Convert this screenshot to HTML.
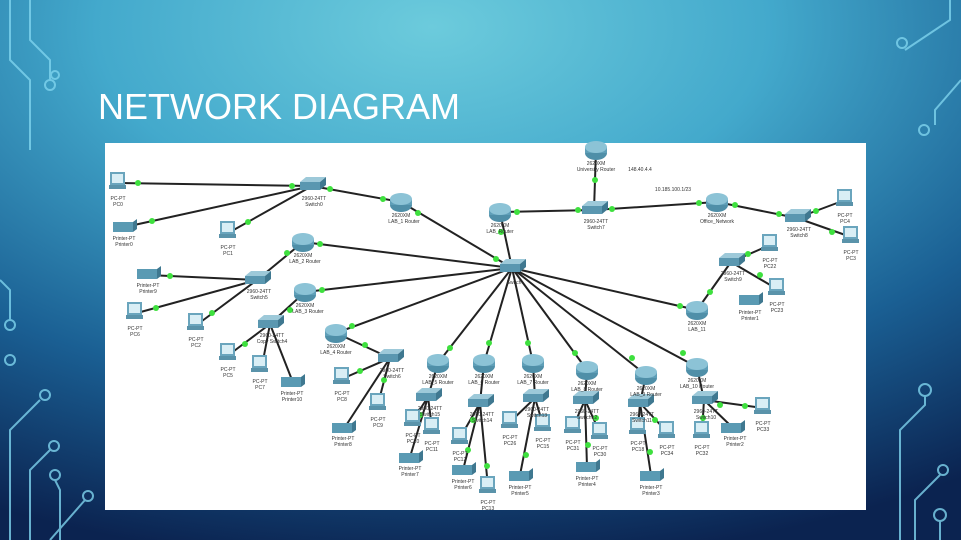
<!DOCTYPE html>
<html><head><meta charset="utf-8"><style>
html,body{margin:0;padding:0;width:961px;height:540px;overflow:hidden}
svg text{font-family:"Liberation Sans",sans-serif}
</style></head><body>
<svg width="961" height="540" viewBox="0 0 961 540" xmlns="http://www.w3.org/2000/svg">
<defs>
<radialGradient id="bg" cx="0.45" cy="0.05" r="1.0">
<stop offset="0" stop-color="#6ccbdc"/><stop offset="0.35" stop-color="#43a9cc"/><stop offset="0.7" stop-color="#1a5f93"/><stop offset="1" stop-color="#0b2350"/>
</radialGradient>
<g id="r"><ellipse cx="0" cy="3" rx="11" ry="7" fill="#4f8fa8"/><rect x="-11" y="-3" width="22" height="6" fill="#5f9fb8"/><ellipse cx="0" cy="-3" rx="11" ry="6" fill="#8cc3d6"/></g>
<g id="s"><polygon points="-12,-4 -6,-9 14,-9 8,-4" fill="#9dc9d9"/><rect x="-12" y="-4" width="20" height="8" fill="#5a97b0"/><polygon points="8,-4 14,-9 14,-1 8,4" fill="#3f7890"/></g>
<g id="p"><rect x="-8" y="-11" width="15" height="13" fill="#6aa5bd"/><rect x="-6" y="-9" width="11" height="9" fill="#d9eef5"/><rect x="-9" y="2" width="17" height="4" fill="#5a93aa"/></g>
<g id="t"><rect x="-11" y="-5" width="20" height="10" fill="#5a9ab3"/><polygon points="9,-5 13,-8 13,2 9,5" fill="#3f7890"/></g>
</defs>
<rect width="961" height="540" fill="url(#bg)"/>
<g stroke="#7fd4ee" stroke-width="2" fill="none" opacity="0.8">
<path d="M10 0 V60 L30 80 V150"/><path d="M30 0 V40 L50 60 V80"/><circle cx="50" cy="85" r="5"/><circle cx="55" cy="75" r="4"/>
<path d="M0 280 L10 290 V320"/><circle cx="10" cy="325" r="5"/><circle cx="10" cy="360" r="5"/>
<path d="M10 540 V430 L40 400"/><circle cx="45" cy="395" r="5"/><path d="M30 540 V470 L50 450"/><circle cx="54" cy="446" r="5"/><path d="M50 540 L85 500"/><circle cx="88" cy="496" r="5"/><path d="M60 540 V490 L55 480"/><circle cx="55" cy="475" r="5"/>
<path d="M950 0 V20 L905 50"/><circle cx="902" cy="43" r="5"/><path d="M961 80 L935 110 V125"/><circle cx="924" cy="130" r="5"/>
<path d="M900 540 V430 L925 405 V395"/><circle cx="925" cy="390" r="6"/><path d="M915 540 V500 L940 475"/><circle cx="943" cy="470" r="5"/><path d="M940 540 V520"/><circle cx="940" cy="515" r="6"/>
</g>
<text x="98" y="119" font-size="36" fill="#fff">NETWORK DIAGRAM</text>
<rect x="105" y="143" width="761" height="367" fill="#fff"/>
<g stroke="#222" stroke-width="2">
<line x1="120" y1="183" x2="312" y2="186"/><line x1="125" y1="227" x2="312" y2="186"/><line x1="230" y1="232" x2="312" y2="186"/>
<line x1="312" y1="186" x2="401" y2="202"/><line x1="401" y1="202" x2="512" y2="268"/>
<line x1="303" y1="242" x2="512" y2="268"/><line x1="305" y1="292" x2="512" y2="268"/><line x1="336" y1="333" x2="512" y2="268"/>
<line x1="303" y1="242" x2="257" y2="280"/><line x1="148" y1="275" x2="257" y2="280"/><line x1="137" y1="313" x2="257" y2="280"/><line x1="198" y1="324" x2="257" y2="280"/>
<line x1="305" y1="292" x2="270" y2="324"/><line x1="270" y1="324" x2="230" y2="354"/><line x1="270" y1="324" x2="262" y2="366"/><line x1="270" y1="324" x2="292" y2="380"/>
<line x1="336" y1="333" x2="390" y2="358"/><line x1="390" y1="358" x2="344" y2="378"/><line x1="390" y1="358" x2="378" y2="404"/><line x1="390" y1="358" x2="345" y2="427"/>
<line x1="500" y1="212" x2="512" y2="268"/><line x1="500" y1="212" x2="594" y2="210"/><line x1="594" y1="210" x2="596" y2="150"/><line x1="594" y1="210" x2="717" y2="202"/>
<line x1="717" y1="202" x2="797" y2="218"/><line x1="797" y1="218" x2="845" y2="200"/><line x1="797" y1="218" x2="851" y2="237"/>
<line x1="512" y1="268" x2="697" y2="310"/><line x1="697" y1="310" x2="731" y2="262"/><line x1="731" y1="262" x2="770" y2="245"/><line x1="731" y1="262" x2="777" y2="289"/>
<line x1="512" y1="268" x2="438" y2="363"/><line x1="512" y1="268" x2="484" y2="363"/><line x1="512" y1="268" x2="533" y2="363"/><line x1="512" y1="268" x2="587" y2="370"/><line x1="512" y1="268" x2="646" y2="375"/><line x1="512" y1="268" x2="697" y2="367"/>
<line x1="438" y1="363" x2="428" y2="397"/><line x1="428" y1="397" x2="413" y2="420"/><line x1="428" y1="397" x2="432" y2="428"/><line x1="428" y1="397" x2="410" y2="457"/>
<line x1="484" y1="363" x2="480" y2="403"/><line x1="480" y1="403" x2="460" y2="438"/><line x1="480" y1="403" x2="463" y2="470"/><line x1="480" y1="403" x2="488" y2="487"/>
<line x1="533" y1="363" x2="535" y2="398"/><line x1="535" y1="398" x2="510" y2="422"/><line x1="535" y1="398" x2="543" y2="425"/><line x1="535" y1="398" x2="520" y2="475"/>
<line x1="587" y1="370" x2="585" y2="400"/><line x1="585" y1="400" x2="573" y2="427"/><line x1="585" y1="400" x2="600" y2="433"/><line x1="585" y1="400" x2="587" y2="467"/>
<line x1="646" y1="375" x2="640" y2="403"/><line x1="640" y1="403" x2="638" y2="428"/><line x1="640" y1="403" x2="667" y2="432"/><line x1="640" y1="403" x2="651" y2="475"/>
<line x1="697" y1="367" x2="704" y2="400"/><line x1="704" y1="400" x2="702" y2="432"/><line x1="704" y1="400" x2="732" y2="427"/><line x1="704" y1="400" x2="763" y2="408"/>
</g>
<g fill="#3ee03e">
<circle cx="138" cy="183" r="3"/><circle cx="292" cy="186" r="3"/><circle cx="152" cy="221" r="3"/><circle cx="248" cy="222" r="3"/><circle cx="330" cy="189" r="3"/><circle cx="383" cy="199" r="3"/><circle cx="418" cy="213" r="3"/><circle cx="496" cy="259" r="3"/>
<circle cx="320" cy="244" r="3"/><circle cx="322" cy="290" r="3"/><circle cx="352" cy="326" r="3"/><circle cx="170" cy="276" r="3"/><circle cx="156" cy="308" r="3"/><circle cx="212" cy="313" r="3"/><circle cx="287" cy="253" r="3"/>
<circle cx="245" cy="344" r="3"/><circle cx="290" cy="310" r="3"/><circle cx="365" cy="345" r="3"/><circle cx="360" cy="371" r="3"/><circle cx="384" cy="380" r="3"/>
<circle cx="501" cy="232" r="3"/><circle cx="517" cy="212" r="3"/><circle cx="578" cy="210" r="3"/><circle cx="595" cy="180" r="3"/><circle cx="612" cy="209" r="3"/><circle cx="699" cy="203" r="3"/><circle cx="735" cy="205" r="3"/><circle cx="779" cy="214" r="3"/><circle cx="816" cy="211" r="3"/><circle cx="832" cy="232" r="3"/>
<circle cx="680" cy="306" r="3"/><circle cx="710" cy="292" r="3"/><circle cx="748" cy="254" r="3"/><circle cx="760" cy="275" r="3"/>
<circle cx="450" cy="348" r="3"/><circle cx="489" cy="343" r="3"/><circle cx="528" cy="343" r="3"/><circle cx="575" cy="353" r="3"/><circle cx="632" cy="358" r="3"/><circle cx="683" cy="353" r="3"/>
<circle cx="420" cy="415" r="3"/><circle cx="473" cy="420" r="3"/><circle cx="468" cy="450" r="3"/><circle cx="487" cy="466" r="3"/><circle cx="526" cy="455" r="3"/><circle cx="588" cy="445" r="3"/><circle cx="596" cy="418" r="3"/><circle cx="655" cy="420" r="3"/><circle cx="650" cy="452" r="3"/><circle cx="703" cy="418" r="3"/><circle cx="720" cy="405" r="3"/><circle cx="745" cy="406" r="3"/>
</g>
<use href="#s" x="512" y="268"/>
<use href="#r" x="596" y="150"/><use href="#r" x="500" y="212"/><use href="#r" x="401" y="202"/><use href="#r" x="303" y="242"/><use href="#r" x="305" y="292"/><use href="#r" x="336" y="333"/>
<use href="#r" x="438" y="363"/><use href="#r" x="484" y="363"/><use href="#r" x="533" y="363"/><use href="#r" x="587" y="370"/><use href="#r" x="646" y="375"/><use href="#r" x="697" y="367"/><use href="#r" x="717" y="202"/><use href="#r" x="697" y="310"/>
<use href="#s" x="312" y="186"/><use href="#s" x="594" y="210"/><use href="#s" x="797" y="218"/><use href="#s" x="731" y="262"/><use href="#s" x="257" y="280"/><use href="#s" x="270" y="324"/><use href="#s" x="390" y="358"/>
<use href="#s" x="428" y="397"/><use href="#s" x="480" y="403"/><use href="#s" x="535" y="398"/><use href="#s" x="585" y="400"/><use href="#s" x="640" y="403"/><use href="#s" x="704" y="400"/>
<use href="#p" x="118" y="183"/><use href="#p" x="228" y="232"/><use href="#p" x="135" y="313"/><use href="#p" x="196" y="324"/><use href="#p" x="228" y="354"/><use href="#p" x="260" y="366"/><use href="#p" x="342" y="378"/><use href="#p" x="378" y="404"/>
<use href="#p" x="845" y="200"/><use href="#p" x="851" y="237"/><use href="#p" x="770" y="245"/><use href="#p" x="777" y="289"/>
<use href="#p" x="413" y="420"/><use href="#p" x="432" y="428"/><use href="#p" x="460" y="438"/><use href="#p" x="488" y="487"/><use href="#p" x="510" y="422"/><use href="#p" x="543" y="425"/><use href="#p" x="573" y="427"/><use href="#p" x="600" y="433"/><use href="#p" x="638" y="428"/><use href="#p" x="667" y="432"/><use href="#p" x="702" y="432"/><use href="#p" x="763" y="408"/>
<use href="#t" x="124" y="227"/><use href="#t" x="148" y="274"/><use href="#t" x="292" y="382"/><use href="#t" x="343" y="428"/><use href="#t" x="750" y="300"/>
<use href="#t" x="410" y="458"/><use href="#t" x="463" y="470"/><use href="#t" x="520" y="476"/><use href="#t" x="587" y="467"/><use href="#t" x="651" y="476"/><use href="#t" x="732" y="428"/>
<g font-size="5" fill="#333" text-anchor="middle">
<text x="118" y="200">PC-PT</text><text x="118" y="206">PC0</text>
<text x="124" y="240">Printer-PT</text><text x="124" y="246">Printer0</text>
<text x="228" y="249">PC-PT</text><text x="228" y="255">PC1</text>
<text x="314" y="200">2960-24TT</text><text x="314" y="206">Switch0</text>
<text x="401" y="217">2620XM</text><text x="404" y="223">LAB_1 Router</text>
<text x="303" y="257">2620XM</text><text x="305" y="263">LAB_2 Router</text>
<text x="148" y="287">Printer-PT</text><text x="148" y="293">Printer9</text>
<text x="259" y="293">2960-24TT</text><text x="259" y="299">Switch5</text>
<text x="305" y="307">2620XM</text><text x="308" y="313">LAB_3 Router</text>
<text x="135" y="330">PC-PT</text><text x="135" y="336">PC6</text>
<text x="196" y="341">PC-PT</text><text x="196" y="347">PC2</text>
<text x="272" y="337">2960-24TT</text><text x="272" y="343">Copy Switch4</text>
<text x="336" y="348">2620XM</text><text x="336" y="354">LAB_4 Router</text>
<text x="392" y="372">2960-24TT</text><text x="392" y="378">Switch6</text>
<text x="228" y="371">PC-PT</text><text x="228" y="377">PC5</text>
<text x="260" y="383">PC-PT</text><text x="260" y="389">PC7</text>
<text x="292" y="395">Printer-PT</text><text x="292" y="401">Printer10</text>
<text x="342" y="395">PC-PT</text><text x="342" y="401">PC8</text>
<text x="378" y="421">PC-PT</text><text x="378" y="427">PC9</text>
<text x="343" y="440">Printer-PT</text><text x="343" y="446">Printer8</text>
<text x="596" y="165">2620XM</text><text x="596" y="171">University Router</text>
<text x="640" y="171">148.40.4.4</text><text x="673" y="191">10.185.100.1/23</text>
<text x="500" y="227">2620XM</text><text x="500" y="233">LAB_Router</text>
<text x="596" y="223">2960-24TT</text><text x="596" y="229">Switch7</text>
<text x="717" y="217">2620XM</text><text x="717" y="223">Office_Network</text>
<text x="799" y="231">2960-24TT</text><text x="799" y="237">Switch8</text>
<text x="845" y="217">PC-PT</text><text x="845" y="223">PC4</text>
<text x="851" y="254">PC-PT</text><text x="851" y="260">PC3</text>
<text x="733" y="275">2960-24TT</text><text x="733" y="281">Switch9</text>
<text x="770" y="262">PC-PT</text><text x="770" y="268">PC22</text>
<text x="777" y="306">PC-PT</text><text x="777" y="312">PC23</text>
<text x="750" y="314">Printer-PT</text><text x="750" y="320">Printer1</text>
<text x="697" y="325">2620XM</text><text x="697" y="331">LAB_11</text>
<text x="514" y="284">Switch</text>
<text x="438" y="378">2620XM</text><text x="438" y="384">LAB_5 Router</text>
<text x="484" y="378">2620XM</text><text x="484" y="384">LAB_6 Router</text>
<text x="533" y="378">2620XM</text><text x="533" y="384">LAB_7 Router</text>
<text x="587" y="385">2620XM</text><text x="587" y="391">LAB_8 Router</text>
<text x="646" y="390">2620XM</text><text x="646" y="396">LAB_9 Router</text>
<text x="697" y="382">2620XM</text><text x="697" y="388">LAB_10 Router</text>
<text x="430" y="410">2960-24TT</text><text x="430" y="416">Switch15</text>
<text x="482" y="416">2960-24TT</text><text x="482" y="422">Switch14</text>
<text x="537" y="411">2960-24TT</text><text x="537" y="417">Switch13</text>
<text x="587" y="413">2960-24TT</text><text x="587" y="419">Switch12</text>
<text x="642" y="416">2960-24TT</text><text x="642" y="422">Switch11</text>
<text x="706" y="413">2960-24TT</text><text x="706" y="419">Switch10</text>
<text x="413" y="437">PC-PT</text><text x="413" y="443">PC10</text>
<text x="432" y="445">PC-PT</text><text x="432" y="451">PC11</text>
<text x="410" y="470">Printer-PT</text><text x="410" y="476">Printer7</text>
<text x="460" y="455">PC-PT</text><text x="460" y="461">PC12</text>
<text x="463" y="483">Printer-PT</text><text x="463" y="489">Printer6</text>
<text x="488" y="504">PC-PT</text><text x="488" y="510">PC13</text>
<text x="510" y="439">PC-PT</text><text x="510" y="445">PC26</text>
<text x="543" y="442">PC-PT</text><text x="543" y="448">PC15</text>
<text x="520" y="489">Printer-PT</text><text x="520" y="495">Printer5</text>
<text x="573" y="444">PC-PT</text><text x="573" y="450">PC31</text>
<text x="600" y="450">PC-PT</text><text x="600" y="456">PC30</text>
<text x="587" y="480">Printer-PT</text><text x="587" y="486">Printer4</text>
<text x="638" y="445">PC-PT</text><text x="638" y="451">PC18</text>
<text x="667" y="449">PC-PT</text><text x="667" y="455">PC34</text>
<text x="651" y="489">Printer-PT</text><text x="651" y="495">Printer3</text>
<text x="702" y="449">PC-PT</text><text x="702" y="455">PC32</text>
<text x="735" y="440">Printer-PT</text><text x="735" y="446">Printer2</text>
<text x="763" y="425">PC-PT</text><text x="763" y="431">PC33</text>
</g>
</svg>
</body></html>
